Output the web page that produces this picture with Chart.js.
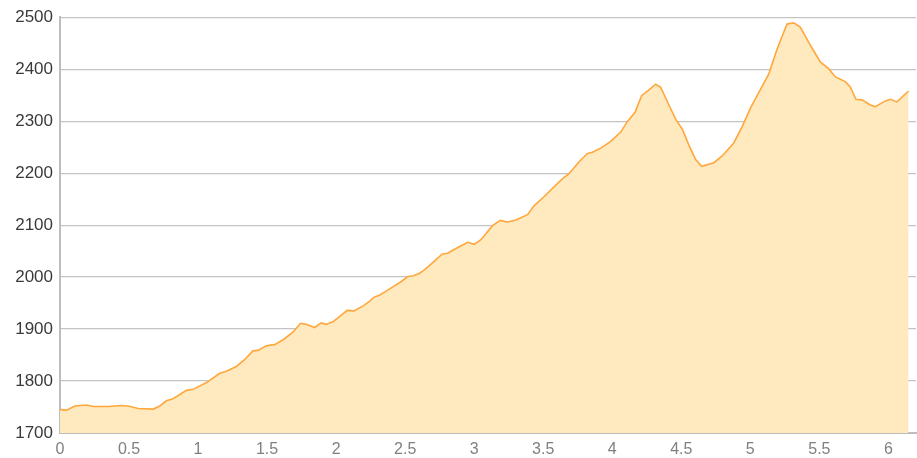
<!DOCTYPE html>
<html>
<head>
<meta charset="utf-8">
<title>Elevation profile</title>
<script src="https://cdn.jsdelivr.net/npm/chart.js@4.4.1/dist/chart.umd.min.js"></script>
<style>
  html, body { margin: 0; padding: 0; background: #fff; }
  #wrap { width: 917px; height: 458px; }
</style>
</head>
<body>
<div id="wrap"><canvas id="profileChart"></canvas></div>
<script>
// distance along the route (km)
const distances = [
    0, 0.048, 0.108, 0.193, 0.241, 0.349, 0.446, 0.494, 0.566, 0.675,
    0.723, 0.771, 0.819, 0.916, 0.964, 1.061, 1.157, 1.205, 1.277, 1.337,
    1.397, 1.434, 1.494, 1.554, 1.614, 1.687, 1.742, 1.783, 1.843, 1.892,
    1.928, 1.976, 2.024, 2.080, 2.128, 2.193, 2.241, 2.272, 2.313, 2.362,
    2.422, 2.470, 2.518, 2.554, 2.602, 2.639, 2.675, 2.767, 2.807, 2.868,
    2.952, 3.000, 3.049, 3.133, 3.189, 3.241, 3.302, 3.386, 3.434, 3.507,
    3.591, 3.651, 3.687, 3.760, 3.820, 3.856, 3.917, 3.989, 4.061, 4.109,
    4.165, 4.213, 4.266, 4.314, 4.351, 4.410, 4.463, 4.507, 4.555, 4.604,
    4.647, 4.736, 4.796, 4.880, 4.940, 5.001, 5.061, 5.134, 5.194, 5.266,
    5.314, 5.362, 5.435, 5.507, 5.567, 5.616, 5.688, 5.724, 5.765, 5.809,
    5.869, 5.905, 5.978, 6.014, 6.062, 6.146
];

// elevation (m)
const elevations = [
    1745, 1744, 1752, 1754, 1751, 1751, 1753, 1752, 1747, 1746,
    1752, 1762, 1766, 1782, 1784, 1797, 1815, 1819, 1828, 1841,
    1858, 1859, 1868, 1870, 1879, 1894, 1911, 1909, 1903, 1912,
    1909, 1914, 1924, 1936, 1935, 1944, 1953, 1961, 1965, 1973,
    1983, 1991, 2001, 2002, 2007, 2014, 2022, 2044, 2046, 2055,
    2067, 2063, 2072, 2099, 2109, 2106, 2110, 2120, 2137, 2155,
    2177, 2192, 2199, 2222, 2238, 2240, 2248, 2261, 2279, 2299,
    2317, 2349, 2360, 2371, 2365, 2331, 2302, 2285, 2254, 2226,
    2213, 2220, 2233, 2258, 2289, 2325, 2355, 2391, 2439, 2487,
    2489, 2481, 2446, 2414, 2401, 2385, 2376, 2366, 2342, 2341,
    2331, 2328, 2339, 2342, 2337, 2358
];

const distanceTicks = [0, 0.5, 1, 1.5, 2, 2.5, 3, 3.5, 4, 4.5, 5, 5.5, 6];
const elevationTicks = [1700, 1800, 1900, 2000, 2100, 2200, 2300, 2400, 2500];

document.addEventListener('DOMContentLoaded', function() {
    const points = distances.map((d, i) => ({ x: d, y: elevations[i] }));

    const ctx = document.getElementById('profileChart').getContext('2d');
    new Chart(ctx, {
        type: 'line',
        data: {
            datasets: [{
                label: 'Elevation',
                data: points,
                borderColor: '#ffa73c',
                backgroundColor: '#ffe9bf',
                borderWidth: 1.6,
                fill: 'origin',
                pointRadius: 0,
                tension: 0
            }]
        },
        options: {
            responsive: true,
            maintainAspectRatio: false,
            animation: false,
            layout: {
                padding: { top: 13, right: 1, left: 0, bottom: 0 }
            },
            plugins: {
                legend: { display: false },
                tooltip: { enabled: false }
            },
            scales: {
                x: {
                    type: 'linear',
                    min: 0,
                    max: 6.2,
                    grid: { display: false, drawTicks: false },
                    border: { display: true, color: '#bdbdbd', width: 2 },
                    afterBuildTicks: function(scale) {
                        scale.ticks = distanceTicks.map(v => ({ value: v }));
                    },
                    afterFit: function(scale) { scale.height = 25; },
                    ticks: {
                        padding: 7,
                        color: '#808080',
                        maxRotation: 0,
                        autoSkip: false,
                        callback: value => String(value),
                        font: { family: 'Liberation Sans', size: 16 }
                    }
                },
                y: {
                    min: 1700,
                    max: 2500,
                    afterBuildTicks: function(scale) {
                        scale.ticks = elevationTicks.map(v => ({ value: v }));
                    },
                    afterFit: function(scale) { scale.width = 60; },
                    grid: { color: '#c4c4c4', lineWidth: 1.2, drawTicks: false },
                    border: { display: true, color: '#bdbdbd', width: 2 },
                    ticks: {
                        padding: 7,
                        color: '#3a3a3a',
                        callback: value => String(value),
                        font: { family: 'Liberation Sans', size: 17 }
                    }
                }
            }
        }
    });
});
</script>
</body>
</html>
